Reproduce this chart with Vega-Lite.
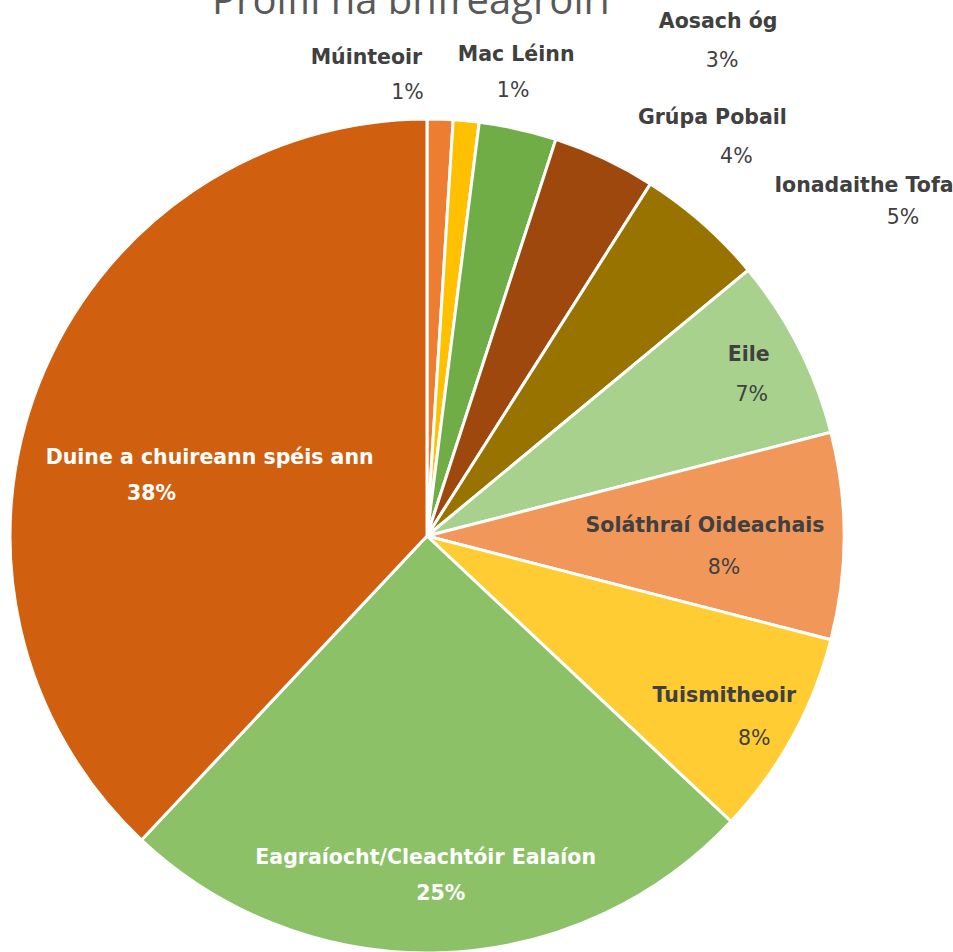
{
  "$schema": "https://vega.github.io/schema/vega-lite/v6.json",
  "width": 834,
  "height": 834,
  "autosize": {"type": "none"},
  "padding": {"left": 10, "top": 119, "right": 109, "bottom": 0},
  "background": "white",
  "view": {"stroke": null},
  "title": {
    "text": "Próifíl na bhfreagróirí",
    "font": "Open Sans",
    "fontSize": 40,
    "fontWeight": "normal",
    "color": "#595959",
    "anchor": "middle",
    "dx": -16,
    "offset": -10
  },
  "data": {
    "values": [
      {"rank": 1, "cat": "Múinteoir", "share": 0.01},
      {"rank": 2, "cat": "Mac Léinn", "share": 0.01},
      {"rank": 3, "cat": "Aosach óg", "share": 0.03},
      {"rank": 4, "cat": "Grúpa Pobail", "share": 0.04},
      {"rank": 5, "cat": "Ionadaithe Tofa", "share": 0.05},
      {"rank": 6, "cat": "Eile", "share": 0.07},
      {"rank": 7, "cat": "Soláthraí Oideachais", "share": 0.08},
      {"rank": 8, "cat": "Tuismitheoir", "share": 0.08},
      {"rank": 9, "cat": "Eagraíocht/Cleachtóir Ealaíon", "share": 0.25},
      {"rank": 10, "cat": "Duine a chuireann spéis ann", "share": 0.38}
    ]
  },
  "encoding": {
    "theta": {"field": "share", "type": "quantitative", "stack": true},
    "order": {"field": "rank", "type": "quantitative"}
  },
  "layer": [
    {
      "mark": {"type": "arc", "outerRadius": 417, "stroke": "white", "strokeWidth": 3},
      "encoding": {
        "color": {
          "field": "cat",
          "type": "nominal",
          "scale": {
            "domain": ["Múinteoir", "Mac Léinn", "Aosach óg", "Grúpa Pobail", "Ionadaithe Tofa", "Eile", "Soláthraí Oideachais", "Tuismitheoir", "Eagraíocht/Cleachtóir Ealaíon", "Duine a chuireann spéis ann"],
            "range": ["#ED7D31", "#FFC000", "#70AD47", "#9E480E", "#997300", "#A9D18E", "#F1975A", "#FFCD33", "#8CC168", "#D05F10"]
          },
          "legend": null
        }
      }
    },
    {
      "mark": {
        "type": "text",
        "font": "DejaVu Sans",
        "fontSize": 20.5,
        "fontWeight": "bold",
        "align": "center",
        "baseline": "middle",
        "radius": {"expr": "[0, 459, 469, 546, 487, 552, 361, 287, 361, 340, 251][datum.rank]"},
        "dx": {"expr": "[0, -75, 45, 172, 78, 72, 0, -9, -19, -12, 16][datum.rank]"},
        "dy": {"expr": "[0, -19, -14, 19, 23, 64, -17, -10, -14, -18, 14][datum.rank]"},
        "color": {"expr": "datum.rank >= 9 ? 'white' : '#404040'"}
      },
      "encoding": {"text": {"field": "cat", "type": "nominal"}}
    },
    {
      "mark": {
        "type": "text",
        "font": "DejaVu Sans",
        "fontSize": 20.5,
        "align": "center",
        "baseline": "middle",
        "radius": {"expr": "[0, 459, 469, 546, 487, 552, 361, 287, 361, 340, 251][datum.rank]"},
        "dx": {"expr": "[0, -34, 42, 176, 102, 111, 3, 10, 11, 3, -42][datum.rank]"},
        "dy": {"expr": "[0, 16, 22, 58, 62, 96, 23, 32, 29, 18, 50][datum.rank]"},
        "fontWeight": {"expr": "datum.rank >= 9 ? 'bold' : 'normal'"},
        "color": {"expr": "datum.rank >= 9 ? 'white' : '#404040'"}
      },
      "encoding": {"text": {"field": "share", "type": "quantitative", "format": ".0%"}}
    }
  ]
}
